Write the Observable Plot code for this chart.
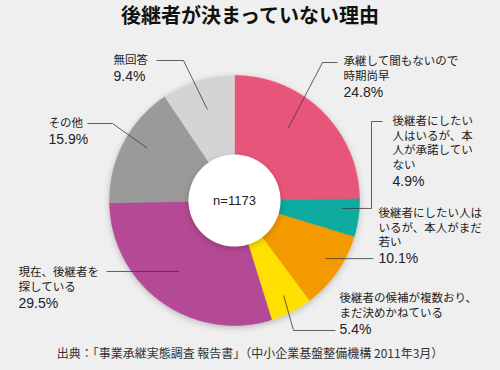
<!DOCTYPE html>
<html><head><meta charset="utf-8">
<script src="https://cdn.jsdelivr.net/npm/d3@7"></script>
<script src="https://cdn.jsdelivr.net/npm/@observablehq/plot@0.6"></script>
<style>
html,body{margin:0;padding:0;background:#efefef;}
#wrap{width:500px;height:370px;position:relative;overflow:hidden;background:#efefef;}
#title{height:38px;line-height:38px;text-align:center;font:bold 20px "Noto Sans CJK JP",sans-serif;color:#111;}
#chart{height:306px;}
#caption{height:22px;line-height:22px;text-align:center;font:12px "Noto Sans CJK JP",sans-serif;color:#333;}
</style></head><body>
<div id="wrap"><div id="title"></div><div id="chart"></div><div id="caption"></div></div>
<script>
// ---- data ----
const title = "後継者が決まっていない理由";
const caption = "出典：「事業承継実態調査 報告書」（中小企業基盤整備機構 2011年3月）";
const sampleLabel = "n=1173";
const categories = [
  "承継して間もないので\n時期尚早",
  "後継者にしたい\n人はいるが、本\n人が承諾してい\nない",
  "後継者にしたい人は\nいるが、本人がまだ\n若い",
  "後継者の候補が複数おり、\nまだ決めかねている",
  "現在、後継者を\n探している",
  "その他",
  "無回答"
];
const shares = [24.8, 4.9, 10.1, 5.4, 29.5, 15.9, 9.4];
const colors = ["#e8547a", "#10aba0", "#f39a00", "#ffe000", "#b44a95", "#9a9a9a", "#d4d4d4"];

// ---- layout (positions in page pixels) ----
const cx = 234, cy = 200, R = 125, rHole = 46;
const lineStep = 14.5, pctGap = 16.5;
const layout = [
  {t: 0.41, r: 90,  path: [[322, 62], [337, 62]], lx: 343, ly: 61},
  {t: 0.28, r: 108, path: [[371, null], [371, 121], [382, 121]], lx: 392, ly: 121},
  {t: 0.43, r: 108, path: [[373, null]], lx: 378, ly: 213},
  {t: 0.48, r: 107, path: [[293, 330], [335, 330]], lx: 339, ly: 298},
  {t: 0.52, r: 90,  path: [[106, null]], lx: 18, ly: 272},
  {t: 0.56, r: 102, path: [[112, 123], [87, 123]], lx: 48, ly: 123},
  {t: 0.51, r: 95,  path: [[183, 60], [156, 60]], lx: 113, ly: 60}
];

document.getElementById("title").textContent = title;
document.getElementById("caption").textContent = caption;

const arcs = d3.pie().sort(null).value(d => d)(shares);
const px = (a, r) => cx + r * Math.sin(a);
const py = (a, r) => cy - r * Math.cos(a);

// slice polygons
const slicePts = [];
arcs.forEach((a, i) => {
  slicePts.push({k: i, x: cx, y: cy});
  const n = Math.max(4, Math.ceil((a.endAngle - a.startAngle) / 0.01));
  for (let j = 0; j <= n; j++) {
    const ang = a.startAngle + (a.endAngle - a.startAngle) * j / n;
    slicePts.push({k: i, x: px(ang, R), y: py(ang, R)});
  }
  slicePts.push({k: i, x: cx, y: cy});
});

// leader lines
const leaderPts = [];
const labelRows = [];
const pctRows = [];
arcs.forEach((a, i) => {
  const L = layout[i];
  const ang = a.startAngle + (a.endAngle - a.startAngle) * L.t;
  const ax = px(ang, L.r), ay = py(ang, L.r);
  leaderPts.push({k: i, x: ax, y: ay});
  L.path.forEach(([x, y]) => leaderPts.push({k: i, x, y: y == null ? ay : y}));
  const lines = categories[i].split("\n");
  lines.forEach((s, j) => labelRows.push({x: L.lx, y: L.ly + j * lineStep, text: s}));
  pctRows.push({x: L.lx, y: L.ly + (lines.length - 1) * lineStep + pctGap, text: d3.format(".1f")(shares[i]) + "%"});
});

const svg = Plot.plot({
  width: 500, height: 306,
  marginTop: 0, marginRight: 0, marginBottom: 0, marginLeft: 0,
  x: {domain: [0, 500], range: [0, 500], axis: null},
  y: {domain: [38, 344], range: [0, 306], axis: null},
  color: {type: "identity"},
  style: {background: "transparent", overflow: "visible"},
  marks: [
    Plot.line(slicePts, {x: "x", y: "y", z: "k", fill: d => colors[d.k], stroke: d => colors[d.k], strokeWidth: 0.6, curve: "linear"}),
    Plot.dot([{x: cx, y: cy}], {x: "x", y: "y", r: rHole, fill: "white", stroke: null}),
    Plot.line(leaderPts, {x: "x", y: "y", z: "k", stroke: "#3a3a3a", strokeWidth: 0.8, strokeLinecap: "butt", strokeLinejoin: "miter", curve: "linear"}),
    Plot.text(labelRows, {x: "x", y: "y", text: "text", textAnchor: "start", fontSize: 11.5, fill: "#222", fontFamily: "Noto Sans CJK JP"}),
    Plot.text(pctRows, {x: "x", y: "y", text: "text", textAnchor: "start", fontSize: 14, fill: "#222", fontFamily: "Liberation Sans"}),
    Plot.text([{x: cx, y: cy, text: sampleLabel}], {x: "x", y: "y", text: "text", fontSize: 13, fill: "#222", fontFamily: "Liberation Sans"})
  ]
});

// subtle shadows
const ns = "http://www.w3.org/2000/svg";
const defs = document.createElementNS(ns, "defs");
defs.innerHTML = '<filter id="sh" x="-20%" y="-20%" width="140%" height="140%"><feDropShadow dx="0" dy="2" stdDeviation="3" flood-color="#000" flood-opacity="0.22"/></filter>';
svg.insertBefore(defs, svg.firstChild);
const lineGroups = svg.querySelectorAll('g[aria-label="line"]');
if (lineGroups[0]) lineGroups[0].setAttribute("filter", "url(#sh)");
const dotGroup = svg.querySelector('g[aria-label="dot"]');
if (dotGroup) dotGroup.setAttribute("filter", "url(#sh)");
document.getElementById("chart").appendChild(svg);
</script>
</body></html>
